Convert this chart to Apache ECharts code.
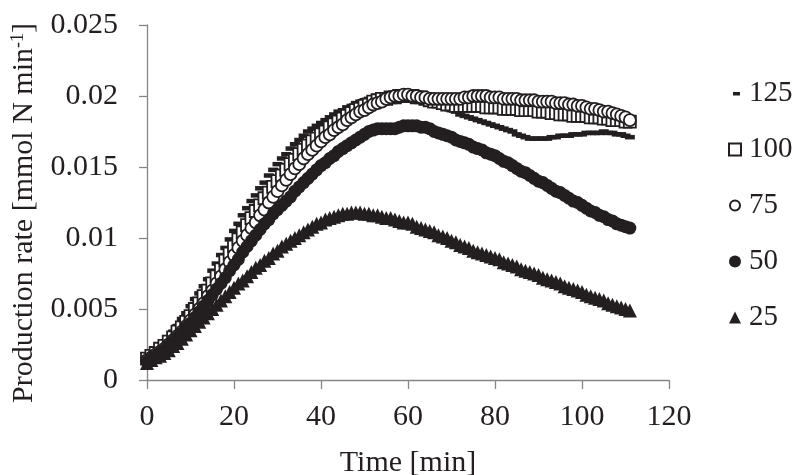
<!DOCTYPE html>
<html>
<head>
<meta charset="utf-8">
<script src="https://cdn.jsdelivr.net/npm/echarts@6/dist/echarts.min.js"></script>
<style>
html,body{margin:0;padding:0;background:#fff;}
#chart{width:795px;height:475px;}
</style>
</head>
<body>
<div id="chart"></div>
<script>
const time = [0,1,2,3,4,5,6,7,8,9,10,11,12,13,14,15,16,17,18,19,20,21,22,23,24,25,26,27,28,29,30,31,32,33,34,35,36,37,38,39,40,41,42,43,44,45,46,47,48,49,50,51,52,53,54,55,56,57,58,59,60,61,62,63,64,65,66,67,68,69,70,71,72,73,74,75,76,77,78,79,80,81,82,83,84,85,86,87,88,89,90,91,92,93,94,95,96,97,98,99,100,101,102,103,104,105,106,107,108,109,110,111];

const s125 = [0.0018,0.0020,0.0022,0.0025,0.0027,0.0030,0.0034,0.0038,0.0043,0.0047,0.0052,0.0057,0.0061,0.0066,0.0071,0.0077,0.0082,0.0088,0.0093,0.0099,0.0105,0.0110,0.0116,0.0121,0.0126,0.0130,0.0135,0.0139,0.0144,0.0148,0.0152,0.0156,0.0159,0.0163,0.0166,0.0169,0.0172,0.0175,0.0177,0.0179,0.0181,0.0183,0.0185,0.0187,0.0189,0.0190,0.0192,0.0193,0.0195,0.0196,0.0197,0.0198,0.0199,0.0200,0.0200,0.0201,0.0201,0.0201,0.0201,0.0201,0.0200,0.0200,0.0199,0.0198,0.0197,0.0196,0.0195,0.0194,0.0192,0.0191,0.0190,0.0189,0.0187,0.0186,0.0185,0.0184,0.0183,0.0182,0.0181,0.0180,0.0179,0.0178,0.0177,0.0176,0.0175,0.0173,0.0172,0.0171,0.0170,0.0170,0.0170,0.0170,0.0170,0.0171,0.0171,0.0172,0.0172,0.0172,0.0173,0.0173,0.0173,0.0174,0.0174,0.0174,0.0174,0.0175,0.0174,0.0174,0.0173,0.0173,0.0172,0.0171];

const s100 = [0.0015,0.0017,0.0019,0.0022,0.0024,0.0027,0.0030,0.0034,0.0037,0.0041,0.0045,0.0050,0.0054,0.0059,0.0063,0.0068,0.0073,0.0078,0.0084,0.0089,0.0094,0.0099,0.0104,0.0109,0.0114,0.0119,0.0123,0.0128,0.0132,0.0136,0.0140,0.0144,0.0148,0.0152,0.0155,0.0159,0.0162,0.0165,0.0168,0.0170,0.0173,0.0175,0.0178,0.0180,0.0182,0.0184,0.0186,0.0188,0.0190,0.0191,0.0193,0.0194,0.0196,0.0197,0.0198,0.0198,0.0199,0.0199,0.0200,0.0200,0.0200,0.0200,0.0199,0.0199,0.0198,0.0197,0.0196,0.0196,0.0195,0.0194,0.0194,0.0193,0.0193,0.0193,0.0193,0.0193,0.0193,0.0193,0.0192,0.0192,0.0192,0.0192,0.0191,0.0191,0.0191,0.0191,0.0190,0.0190,0.0190,0.0190,0.0189,0.0189,0.0189,0.0188,0.0188,0.0187,0.0187,0.0187,0.0186,0.0186,0.0186,0.0186,0.0185,0.0185,0.0185,0.0184,0.0184,0.0183,0.0183,0.0183,0.0182,0.0182];

const s75 = [0.0014,0.0016,0.0018,0.0020,0.0022,0.0025,0.0028,0.0031,0.0034,0.0038,0.0042,0.0046,0.0050,0.0054,0.0059,0.0063,0.0068,0.0073,0.0078,0.0083,0.0088,0.0093,0.0098,0.0102,0.0107,0.0111,0.0116,0.0120,0.0125,0.0129,0.0133,0.0137,0.0141,0.0145,0.0149,0.0152,0.0156,0.0159,0.0162,0.0165,0.0168,0.0171,0.0173,0.0176,0.0178,0.0180,0.0183,0.0185,0.0187,0.0189,0.0190,0.0192,0.0194,0.0195,0.0196,0.0198,0.0199,0.0200,0.0200,0.0201,0.0201,0.0200,0.0200,0.0199,0.0199,0.0198,0.0198,0.0198,0.0198,0.0198,0.0198,0.0198,0.0198,0.0199,0.0199,0.0200,0.0200,0.0200,0.0200,0.0199,0.0199,0.0199,0.0198,0.0198,0.0198,0.0198,0.0197,0.0197,0.0197,0.0197,0.0196,0.0196,0.0196,0.0196,0.0195,0.0195,0.0195,0.0194,0.0194,0.0193,0.0193,0.0192,0.0191,0.0191,0.0190,0.0189,0.0189,0.0188,0.0187,0.0186,0.0185,0.0183];

const s50 = [0.0013,0.0015,0.0017,0.0019,0.0021,0.0024,0.0027,0.0030,0.0033,0.0037,0.0040,0.0044,0.0048,0.0052,0.0056,0.0060,0.0064,0.0068,0.0072,0.0077,0.0081,0.0085,0.0090,0.0094,0.0098,0.0102,0.0106,0.0110,0.0113,0.0117,0.0120,0.0123,0.0126,0.0129,0.0133,0.0136,0.0139,0.0142,0.0145,0.0148,0.0151,0.0153,0.0156,0.0158,0.0161,0.0163,0.0165,0.0167,0.0169,0.0171,0.0173,0.0175,0.0176,0.0177,0.0177,0.0177,0.0177,0.0177,0.0178,0.0179,0.0179,0.0179,0.0179,0.0178,0.0178,0.0177,0.0175,0.0174,0.0173,0.0172,0.0171,0.0169,0.0168,0.0167,0.0166,0.0164,0.0163,0.0162,0.0160,0.0159,0.0158,0.0156,0.0154,0.0153,0.0151,0.0149,0.0147,0.0146,0.0144,0.0142,0.0140,0.0139,0.0137,0.0135,0.0133,0.0132,0.0130,0.0128,0.0126,0.0125,0.0123,0.0121,0.0119,0.0118,0.0116,0.0115,0.0113,0.0112,0.0110,0.0109,0.0108,0.0107];

const s25 = [0.0012,0.0014,0.0016,0.0017,0.0019,0.0021,0.0024,0.0026,0.0029,0.0032,0.0035,0.0038,0.0041,0.0044,0.0047,0.0050,0.0053,0.0056,0.0059,0.0062,0.0065,0.0068,0.0070,0.0073,0.0076,0.0079,0.0081,0.0084,0.0086,0.0089,0.0091,0.0094,0.0096,0.0098,0.0100,0.0102,0.0104,0.0106,0.0108,0.0110,0.0111,0.0113,0.0114,0.0115,0.0116,0.0117,0.0117,0.0118,0.0118,0.0118,0.0117,0.0117,0.0116,0.0116,0.0115,0.0114,0.0114,0.0113,0.0112,0.0111,0.0111,0.0110,0.0108,0.0107,0.0106,0.0105,0.0104,0.0102,0.0101,0.0100,0.0098,0.0097,0.0095,0.0094,0.0093,0.0091,0.0090,0.0089,0.0088,0.0087,0.0086,0.0085,0.0083,0.0082,0.0081,0.0080,0.0078,0.0077,0.0076,0.0075,0.0074,0.0072,0.0071,0.0070,0.0069,0.0068,0.0066,0.0065,0.0064,0.0063,0.0062,0.0060,0.0059,0.0058,0.0057,0.0056,0.0054,0.0053,0.0052,0.0051,0.0050,0.0049];

const seriesNames = ['125','100','75','50','25'];
const xTicks = {min: 0, max: 120, interval: 20};
const yTicks = {min: 0, max: 0.025, interval: 0.005};

const INK = '#231f20';
const AXIS = '#868686';
const FONT = "'Liberation Serif', 'Times New Roman', serif";

function pairs(arr){ return time.map((t,i)=>[t, arr[i]]); }

const chart = echarts.init(document.getElementById('chart'), null, {renderer:'canvas'});

const option = {
  animation: false,
  backgroundColor: '#ffffff',
  grid: {left:147, right:126, top:25, bottom:95, containLabel:false, outerBoundsMode:'none'},
  xAxis: {
    type:'value', min:xTicks.min, max:xTicks.max, interval:xTicks.interval,
    axisLine:{show:true, onZero:false, lineStyle:{color:AXIS, width:1.3}},
    axisTick:{show:true, inside:false, length:9, lineStyle:{color:AXIS, width:1.3}},
    splitLine:{show:false},
    axisLabel:{fontFamily:FONT, fontSize:30, color:INK, margin:22},
    name:'Time [min]', nameLocation:'middle', nameGap:68,
    nameTextStyle:{fontFamily:FONT, fontSize:30, color:INK}
  },
  yAxis: {
    type:'value', min:yTicks.min, max:yTicks.max, interval:yTicks.interval,
    axisLine:{show:true, onZero:false, lineStyle:{color:AXIS, width:1.3}},
    axisTick:{show:true, inside:false, length:8, lineStyle:{color:AXIS, width:1.3}},
    splitLine:{show:false},
    axisLabel:{fontFamily:FONT, fontSize:30, color:INK, margin:29},
    name:'Production rate [mmol N min{sup|-1}]', nameLocation:'middle', nameGap:108, nameRotate:90,
    nameTextStyle:{fontFamily:FONT, fontSize:30, color:INK, padding:[0,21,0,0],
      rich:{sup:{fontFamily:FONT, fontSize:18, color:INK, verticalAlign:'top', lineHeight:30}}}
  },
  legend: {
    orient:'vertical', left:723, top:74, itemGap:27,
    itemWidth:12, itemHeight:12,
    textStyle:{fontFamily:FONT, fontSize:29, color:INK, padding:[0,0,0,3]},
    data:[
      {name:'125', icon:'path://M0,0M12,12M4,4.5h7v3.5h-7z'},
      {name:'100', icon:'rect'},
      {name:'75', icon:'path://M0,0M12,12M6,1A5,5 0 1,0 6.01,1Z'},
      {name:'50', icon:'circle'},
      {name:'25', icon:'triangle'}
    ]
  },
  series: [
    {name:seriesNames[0], type:'scatter', data:pairs(s125), symbol:'rect', symbolSize:[10,4.5],
     itemStyle:{color:INK, opacity:1}},
    {name:seriesNames[1], type:'scatter', data:pairs(s100), symbol:'rect', symbolSize:12,
     itemStyle:{color:'#ffffff', borderColor:INK, borderWidth:1.8, opacity:1}},
    {name:seriesNames[2], type:'scatter', data:pairs(s75), symbol:'circle', symbolSize:12,
     itemStyle:{color:'#ffffff', borderColor:INK, borderWidth:1.8, opacity:1}},
    {name:seriesNames[3], type:'scatter', data:pairs(s50), symbol:'circle', symbolSize:13,
     itemStyle:{color:INK, opacity:1}},
    {name:seriesNames[4], type:'scatter', data:pairs(s25), symbol:'triangle', symbolSize:14,
     itemStyle:{color:INK, opacity:1}}
  ]
};
chart.setOption(option);
</script>
</body>
</html>
